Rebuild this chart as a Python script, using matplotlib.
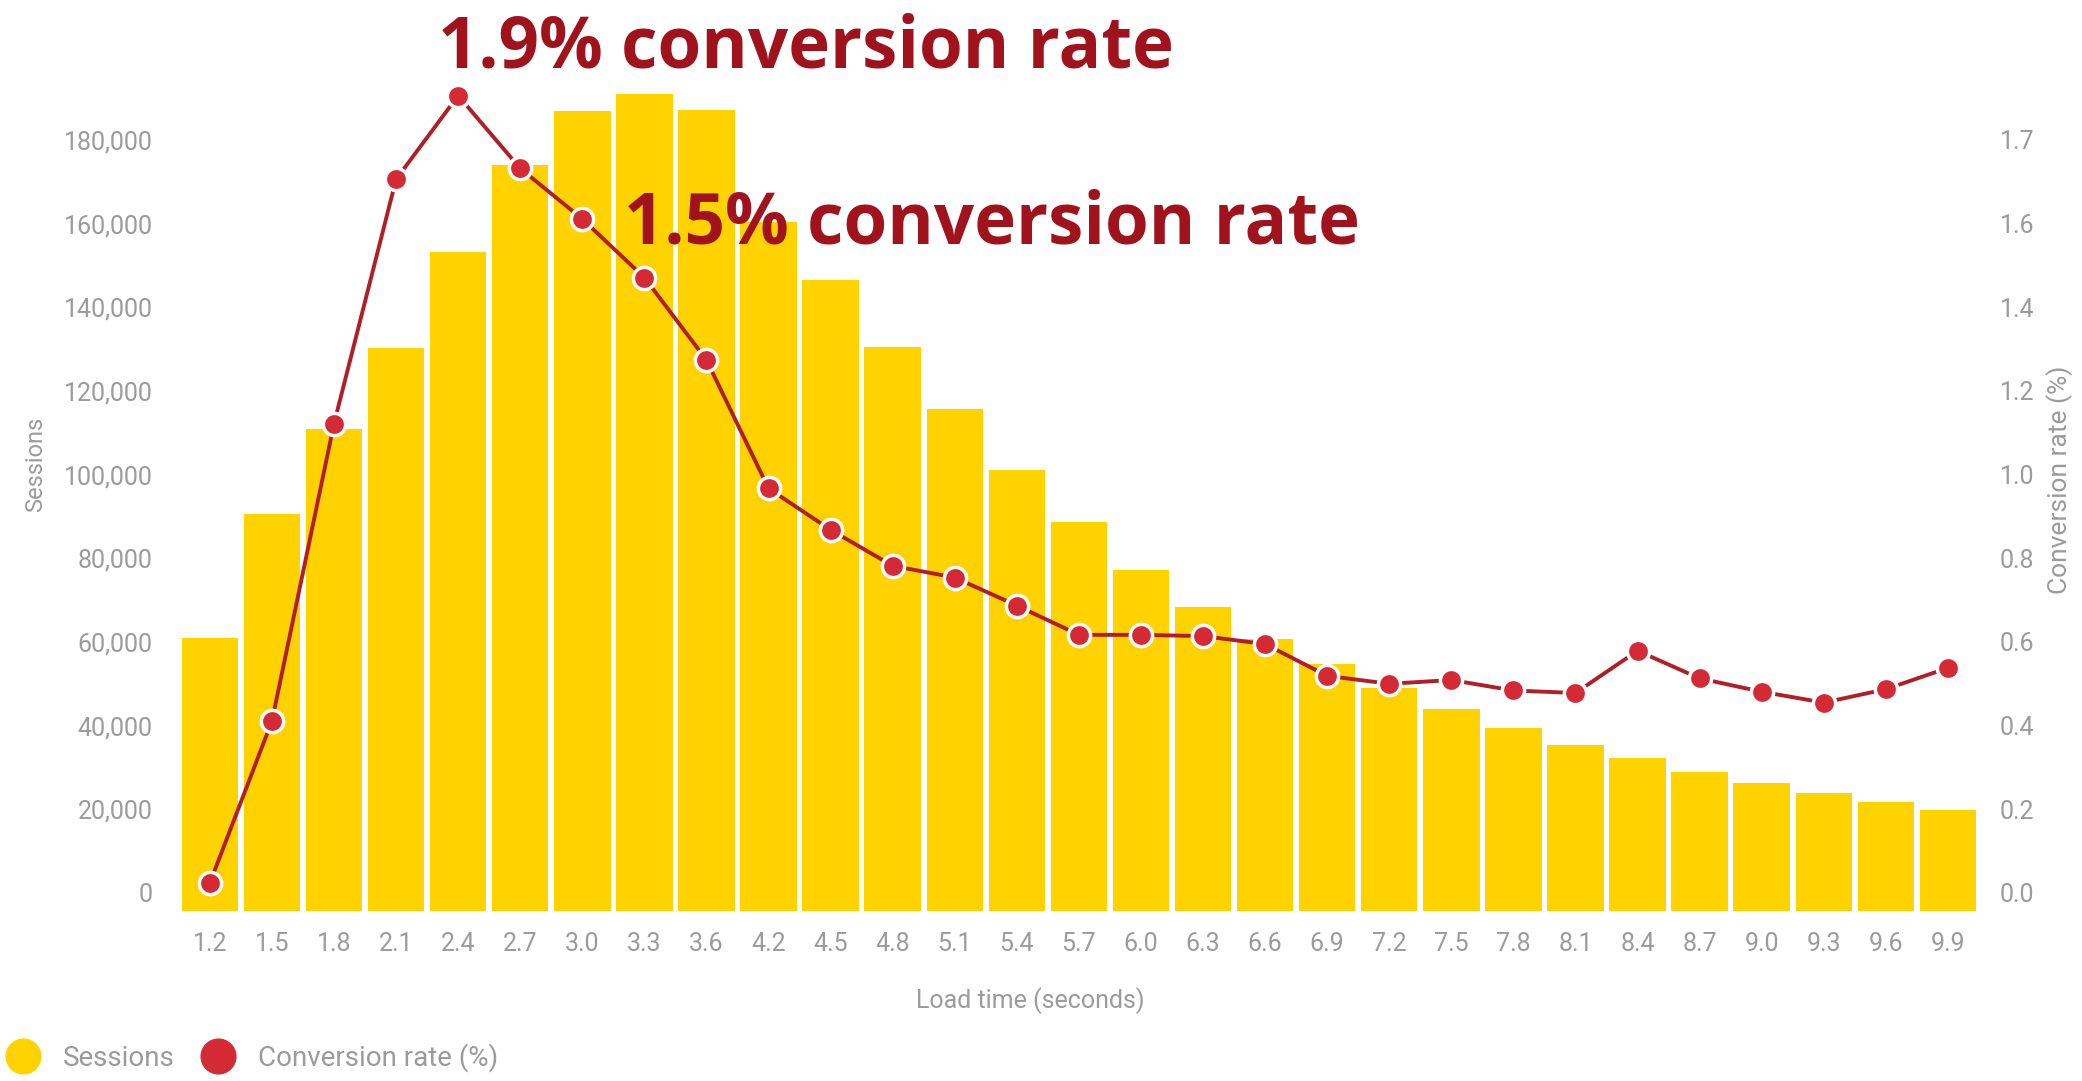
import matplotlib
matplotlib.use("Agg")
import matplotlib.pyplot as plt
from matplotlib.lines import Line2D
from matplotlib.ticker import FixedLocator, FixedFormatter
from matplotlib.transforms import ScaledTranslation

# ---- data ----
load_times = ["1.2", "1.5", "1.8", "2.1", "2.4", "2.7", "3.0", "3.3", "3.6", "4.2",
              "4.5", "4.8", "5.1", "5.4", "5.7", "6.0", "6.3", "6.6", "6.9", "7.2",
              "7.5", "7.8", "8.1", "8.4", "8.7", "9.0", "9.3", "9.6", "9.9"]
sessions = [65300, 94900, 115200, 134600, 157500, 178400, 191100, 195200, 191400, 164800,
            150800, 134900, 120000, 105400, 93000, 81600, 72700, 65100, 59000, 53300,
            48300, 43800, 39700, 36500, 33300, 30500, 28300, 26000, 24100]
conversion = [0.067, 0.454, 1.165, 1.749, 1.949, 1.775, 1.654, 1.514, 1.317, 1.010,
              0.911, 0.825, 0.797, 0.730, 0.660, 0.660, 0.657, 0.638, 0.562, 0.543,
              0.552, 0.527, 0.521, 0.622, 0.556, 0.524, 0.498, 0.530, 0.581]
left_ticks = [0, 20000, 40000, 60000, 80000, 100000, 120000, 140000, 160000, 180000]
right_ticks = [0.0, 0.2, 0.4, 0.6, 0.8, 1.0, 1.2, 1.4, 1.6, 1.8]
right_tick_labels = ["0.0", "0.2", "0.4", "0.6", "0.8", "1.0", "1.2", "1.4", "1.6", "1.7"]
annotations = ["1.9% conversion rate", "1.5% conversion rate"]

# ---- style ----
NARROW = ["Liberation Sans Narrow", "Roboto", "DejaVu Sans"]
GRAY = "#9b9b9b"
YELLOW = "#FFD200"
RED_LINE = "#B01E28"
RED_DOT = "#D42A36"
DARK_RED = "#A0121C"

plt.rcParams["font.family"] = NARROW

fig = plt.figure(figsize=(20.82, 10.81), dpi=100)
ax = fig.add_axes([0.0859, 0.1573, 0.8646, 0.7740])
ax2 = ax.twinx()

x = list(range(len(load_times)))
ax.bar(x, sessions, width=0.91, color=YELLOW, zorder=1)
ax.set_xlim(-0.5, len(load_times) - 0.5)
ax.set_ylim(0, 200000)
ax2.set_ylim(0, 2.0)

ax2.plot(x, conversion, color=RED_LINE, lw=2.8, zorder=3,
         marker="o", markersize=16, markerfacecolor=RED_DOT,
         markeredgecolor="white", markeredgewidth=2.5)

for a in (ax, ax2):
    for s in a.spines.values():
        s.set_visible(False)

ax.set_xticks(x)
ax.set_xticklabels(load_times)
ax.yaxis.set_major_locator(FixedLocator(left_ticks))
ax.yaxis.set_major_formatter(FixedFormatter([f"{v:,}" for v in left_ticks]))
ax2.yaxis.set_major_locator(FixedLocator(right_ticks))
ax2.yaxis.set_major_formatter(FixedFormatter(right_tick_labels))

ax.tick_params(axis="x", length=0, pad=15, labelsize=18, labelcolor=GRAY)
ax.tick_params(axis="y", length=0, pad=19, labelsize=18, labelcolor=GRAY)
ax2.tick_params(axis="y", length=0, pad=15, labelsize=18, labelcolor=GRAY)

# tick labels sit slightly above their tick positions, as in the reference
off = ScaledTranslation(0, 0.18, fig.dpi_scale_trans)
for lab in ax.get_yticklabels() + ax2.get_yticklabels():
    lab.set_transform(lab.get_transform() + off)

ax.set_xlabel("Load time (seconds)", fontsize=18, color=GRAY, va="center")
ax.xaxis.set_label_coords(0.4728, -0.1076)
ax.set_ylabel("Sessions", fontsize=17, color=GRAY, va="center")
ax.yaxis.set_label_coords(-0.0793, 0.534)
ax2.set_ylabel("Conversion rate (%)", fontsize=19, color=GRAY, va="center", rotation=90)
ax2.yaxis.set_label_coords(1.045, 0.515)

ax.set_zorder(1)
ax2.set_zorder(2)
ax.patch.set_visible(False)

# annotations
fig.text(438 / 2082, 1 - 48 / 1081, annotations[0], family=["Open Sans", "DejaVu Sans"],
         fontweight="bold", fontsize=51, color=DARK_RED, ha="left", va="center", zorder=5)
fig.text(624 / 2082, 1 - 225 / 1081, annotations[1], family=["Open Sans", "DejaVu Sans"],
         fontweight="bold", fontsize=51, color=DARK_RED, ha="left", va="center", zorder=5)

# legend
handles = [
    Line2D([], [], ls="none", marker="o", markersize=25, markerfacecolor=YELLOW, markeredgecolor=YELLOW),
    Line2D([], [], ls="none", marker="o", markersize=25, markerfacecolor=RED_DOT, markeredgecolor=RED_DOT),
]
fig.legend(handles, ["Sessions", "Conversion rate (%)"], loc="center left",
           bbox_to_anchor=(0.0024, 0.0213), ncol=2, frameon=False, fontsize=20,
           labelcolor=GRAY, handlelength=1.3, handletextpad=0.8, columnspacing=0.9,
           borderpad=0, borderaxespad=0)

fig.savefig("out.png", dpi=100, facecolor="white")
